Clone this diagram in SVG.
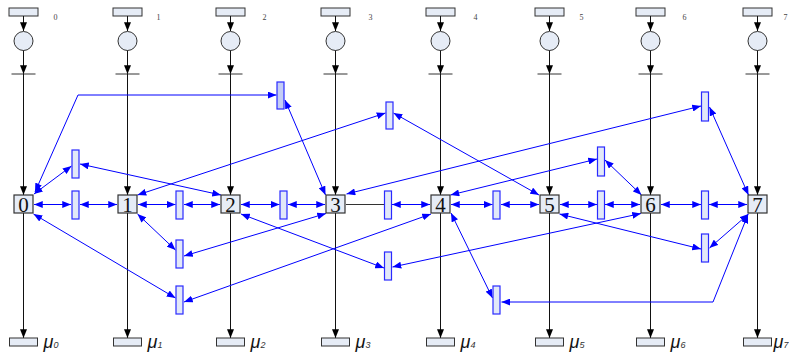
<svg xmlns="http://www.w3.org/2000/svg" width="789" height="353" viewBox="0 0 789 353">
<defs>
<marker id="ab" viewBox="0 0 10 8" refX="10" refY="4" markerWidth="9" markerHeight="7" orient="auto-start-reverse" markerUnits="userSpaceOnUse"><path d="M0,0 L10,4 L0,8 z" fill="#0000ff"/></marker>
<marker id="ak" viewBox="0 0 10 8" refX="10" refY="4" markerWidth="9" markerHeight="7" orient="auto" markerUnits="userSpaceOnUse"><path d="M0,0 L10,4 L0,8 z" fill="#000"/></marker>
</defs>
<style>
.k{stroke:#111;stroke-width:1;fill:none;marker-end:url(#ak)}
.g{stroke:#333;stroke-width:1;fill:none}
.b{stroke:#0000ff;stroke-width:1;fill:none;marker-start:url(#ab);marker-end:url(#ab)}
.t{fill:#e2e8f8;stroke:#2a2aff;stroke-width:1.2}
.r{fill:#e6ecf6;stroke:#333;stroke-width:1}
.bx{fill:#e6ecf6;stroke:#333;stroke-width:1.2}
.n{font-family:"Liberation Serif",serif;font-size:21px;fill:#111;text-anchor:middle}
.l{font-family:"Liberation Serif",serif;font-size:8px;fill:#444}
.m{font-family:"Liberation Sans",sans-serif;font-style:italic;font-size:18px;fill:#111}
.s{font-family:"Liberation Sans",sans-serif;font-size:9px;fill:#333}
</style>
<rect width="789" height="353" fill="#ffffff"/>
<g id="columns">
<g id="col0" transform="translate(23.5,0)">
<rect class="r" x="-14.5" y="8" width="29" height="8"/><text class="l" x="30" y="20">0</text>
<line class="k" x1="0" y1="16" x2="0" y2="31"/><circle class="r" cx="0" cy="41" r="9.5"/>
<line class="k" x1="0" y1="50.5" x2="0" y2="74"/><line class="g" x1="-12" y1="74" x2="12" y2="74" stroke="#111"/>
<line class="k" x1="0" y1="74" x2="0" y2="195"/><line class="k" x1="0" y1="213" x2="0" y2="338"/>
<rect class="r" x="-14" y="338" width="28" height="8"/><text class="m" x="20" y="348">μ<tspan class="s">0</tspan></text>
</g>
<g id="col1" transform="translate(127.5,0)">
<rect class="r" x="-14.5" y="8" width="29" height="8"/><text class="l" x="29" y="20">1</text>
<line class="k" x1="0" y1="16" x2="0" y2="31"/><circle class="r" cx="0" cy="41" r="9.5"/>
<line class="k" x1="0" y1="50.5" x2="0" y2="74"/><line class="g" x1="-12" y1="74" x2="12" y2="74" stroke="#111"/>
<line class="k" x1="0" y1="74" x2="0" y2="195"/><line class="k" x1="0" y1="213" x2="0" y2="338"/>
<rect class="r" x="-14" y="338" width="28" height="8"/><text class="m" x="20" y="348">μ<tspan class="s">1</tspan></text>
</g>
<g id="col2" transform="translate(230.5,0)">
<rect class="r" x="-14.5" y="8" width="29" height="8"/><text class="l" x="32" y="20">2</text>
<line class="k" x1="0" y1="16" x2="0" y2="31"/><circle class="r" cx="0" cy="41" r="9.5"/>
<line class="k" x1="0" y1="50.5" x2="0" y2="74"/><line class="g" x1="-12" y1="74" x2="12" y2="74" stroke="#111"/>
<line class="k" x1="0" y1="74" x2="0" y2="195"/><line class="k" x1="0" y1="213" x2="0" y2="338"/>
<rect class="r" x="-14" y="338" width="28" height="8"/><text class="m" x="20" y="348">μ<tspan class="s">2</tspan></text>
</g>
<g id="col3" transform="translate(335.5,0)">
<rect class="r" x="-14.5" y="8" width="29" height="8"/><text class="l" x="33" y="20">3</text>
<line class="k" x1="0" y1="16" x2="0" y2="31"/><circle class="r" cx="0" cy="41" r="9.5"/>
<line class="k" x1="0" y1="50.5" x2="0" y2="74"/><line class="g" x1="-12" y1="74" x2="12" y2="74" stroke="#111"/>
<line class="k" x1="0" y1="74" x2="0" y2="195"/><line class="k" x1="0" y1="213" x2="0" y2="338"/>
<rect class="r" x="-14" y="338" width="28" height="8"/><text class="m" x="20" y="348">μ<tspan class="s">3</tspan></text>
</g>
<g id="col4" transform="translate(440.5,0)">
<rect class="r" x="-14.5" y="8" width="29" height="8"/><text class="l" x="33" y="20">4</text>
<line class="k" x1="0" y1="16" x2="0" y2="31"/><circle class="r" cx="0" cy="41" r="9.5"/>
<line class="k" x1="0" y1="50.5" x2="0" y2="74"/><line class="g" x1="-12" y1="74" x2="12" y2="74" stroke="#111"/>
<line class="k" x1="0" y1="74" x2="0" y2="195"/><line class="k" x1="0" y1="213" x2="0" y2="338"/>
<rect class="r" x="-14" y="338" width="28" height="8"/><text class="m" x="20" y="348">μ<tspan class="s">4</tspan></text>
</g>
<g id="col5" transform="translate(549.5,0)">
<rect class="r" x="-14.5" y="8" width="29" height="8"/><text class="l" x="30" y="20">5</text>
<line class="k" x1="0" y1="16" x2="0" y2="31"/><circle class="r" cx="0" cy="41" r="9.5"/>
<line class="k" x1="0" y1="50.5" x2="0" y2="74"/><line class="g" x1="-12" y1="74" x2="12" y2="74" stroke="#111"/>
<line class="k" x1="0" y1="74" x2="0" y2="195"/><line class="k" x1="0" y1="213" x2="0" y2="338"/>
<rect class="r" x="-14" y="338" width="28" height="8"/><text class="m" x="20" y="348">μ<tspan class="s">5</tspan></text>
</g>
<g id="col6" transform="translate(650.5,0)">
<rect class="r" x="-14.5" y="8" width="29" height="8"/><text class="l" x="32" y="20">6</text>
<line class="k" x1="0" y1="16" x2="0" y2="31"/><circle class="r" cx="0" cy="41" r="9.5"/>
<line class="k" x1="0" y1="50.5" x2="0" y2="74"/><line class="g" x1="-12" y1="74" x2="12" y2="74" stroke="#111"/>
<line class="k" x1="0" y1="74" x2="0" y2="195"/><line class="k" x1="0" y1="213" x2="0" y2="338"/>
<rect class="r" x="-14" y="338" width="28" height="8"/><text class="m" x="20" y="348">μ<tspan class="s">6</tspan></text>
</g>
<g id="col7" transform="translate(757.5,0)">
<rect class="r" x="-14.5" y="8" width="29" height="8"/><text class="l" x="26" y="20">7</text>
<line class="k" x1="0" y1="16" x2="0" y2="31"/><circle class="r" cx="0" cy="41" r="9.5"/>
<line class="k" x1="0" y1="50.5" x2="0" y2="74"/><line class="g" x1="-12" y1="74" x2="12" y2="74" stroke="#111"/>
<line class="k" x1="0" y1="74" x2="0" y2="195"/><line class="k" x1="0" y1="213" x2="0" y2="338"/>
<rect class="r" x="-14" y="338" width="28" height="8"/><text class="m" x="16" y="348">μ<tspan class="s">7</tspan></text>
</g>
</g>
<g id="connectors">
<line class="b" x1="34" y1="204.5" x2="71" y2="204.5"/>
<line class="b" x1="80" y1="204.5" x2="117" y2="204.5"/>
<line class="b" x1="138" y1="204.5" x2="175.5" y2="204.5"/>
<line class="b" x1="184" y1="204.5" x2="220" y2="204.5"/>
<line class="b" x1="241" y1="204.5" x2="279.5" y2="204.5"/>
<line class="b" x1="288" y1="204.5" x2="325" y2="204.5"/>
<line class="g" x1="346" y1="204.5" x2="384.5" y2="204.5"/>
<line class="b" x1="392" y1="204.5" x2="430" y2="204.5"/>
<line class="b" x1="451" y1="204.5" x2="492.5" y2="204.5"/>
<line class="b" x1="501" y1="204.5" x2="539" y2="204.5"/>
<line class="b" x1="560" y1="204.5" x2="597" y2="204.5"/>
<line class="b" x1="605" y1="204.5" x2="640" y2="204.5"/>
<line class="b" x1="661" y1="204.5" x2="701" y2="204.5"/>
<line class="b" x1="709" y1="204.5" x2="747" y2="204.5"/>
<line class="b" x1="34" y1="194" x2="71.5" y2="166"/>
<line class="b" x1="80" y1="164" x2="221" y2="195"/>
<line class="b" x1="137.5" y1="214" x2="175.5" y2="250"/>
<line class="b" x1="184" y1="256" x2="326" y2="213.5"/>
<line class="b" x1="33.5" y1="214" x2="175.5" y2="298"/>
<line class="b" x1="184" y1="302" x2="431" y2="214"/>
<line class="b" x1="241" y1="214" x2="384" y2="268"/>
<line class="b" x1="392.5" y1="267" x2="641" y2="213.5"/>
<polyline class="b" points="35,192 78,95 276.5,95"/>
<line class="b" x1="285" y1="100" x2="325.5" y2="195"/>
<line class="b" x1="137.5" y1="195" x2="385.5" y2="113"/>
<line class="b" x1="393.5" y1="113" x2="539" y2="195"/>
<line class="b" x1="346.5" y1="194" x2="701" y2="106"/>
<line class="b" x1="709.5" y1="107" x2="748.5" y2="195"/>
<line class="b" x1="450.5" y1="195" x2="597" y2="159"/>
<line class="b" x1="605" y1="160" x2="641.5" y2="195"/>
<line class="b" x1="559.5" y1="214" x2="701" y2="249"/>
<line class="b" x1="709.5" y1="248" x2="748.5" y2="214"/>
<line class="b" x1="451" y1="213" x2="492.5" y2="298"/>
<polyline class="b" points="501.5,302 713,302 748,214.5"/>
</g>
<g id="transitions">
<rect id="t01" class="t" x="72" y="191" width="7" height="28"/>
<rect id="t12" class="t" x="176" y="191" width="7" height="28"/>
<rect id="t23" class="t" x="280" y="191" width="7" height="28"/>
<rect id="t34" class="t" x="384.5" y="191" width="7" height="28"/>
<rect id="t45" class="t" x="493" y="191" width="7" height="28"/>
<rect id="t56" class="t" x="597.5" y="191" width="7" height="28"/>
<rect id="t67" class="t" x="701.5" y="191" width="7" height="28"/>
<rect id="ta" class="t" x="72" y="150" width="7" height="28"/>
<rect id="tb" class="t" x="176" y="240" width="7" height="28"/>
<rect id="tc" class="t" x="176" y="286" width="7" height="28"/>
<rect id="td" class="t" x="384.5" y="252" width="7" height="28"/>
<rect id="te" class="t" x="277" y="82" width="7" height="27" style="fill:#c4cdf5"/>
<rect id="tf" class="t" x="386" y="102" width="7" height="27"/>
<rect id="tg" class="t" x="701.5" y="92" width="7" height="29"/>
<rect id="th" class="t" x="597.5" y="147" width="7" height="29"/>
<rect id="ti" class="t" x="701.5" y="234" width="7" height="28"/>
<rect id="tj" class="t" x="493" y="286" width="7" height="28"/>
</g>
<g id="nodes">
<g id="n0"><rect class="bx" x="14" y="195" width="19" height="18"/><text class="n" x="23.5" y="212">0</text></g>
<g id="n1"><rect class="bx" x="118" y="195" width="19" height="18"/><text class="n" x="127.5" y="212">1</text></g>
<g id="n2"><rect class="bx" x="221" y="195" width="19" height="18"/><text class="n" x="230.5" y="212">2</text></g>
<g id="n3"><rect class="bx" x="326" y="195" width="19" height="18"/><text class="n" x="335.5" y="212">3</text></g>
<g id="n4"><rect class="bx" x="431" y="195" width="19" height="18"/><text class="n" x="440.5" y="212">4</text></g>
<g id="n5"><rect class="bx" x="540" y="195" width="19" height="18"/><text class="n" x="549.5" y="212">5</text></g>
<g id="n6"><rect class="bx" x="641" y="195" width="19" height="18"/><text class="n" x="650.5" y="212">6</text></g>
<g id="n7"><rect class="bx" x="748" y="195" width="19" height="18"/><text class="n" x="757.5" y="212">7</text></g>
</g>
</svg>
